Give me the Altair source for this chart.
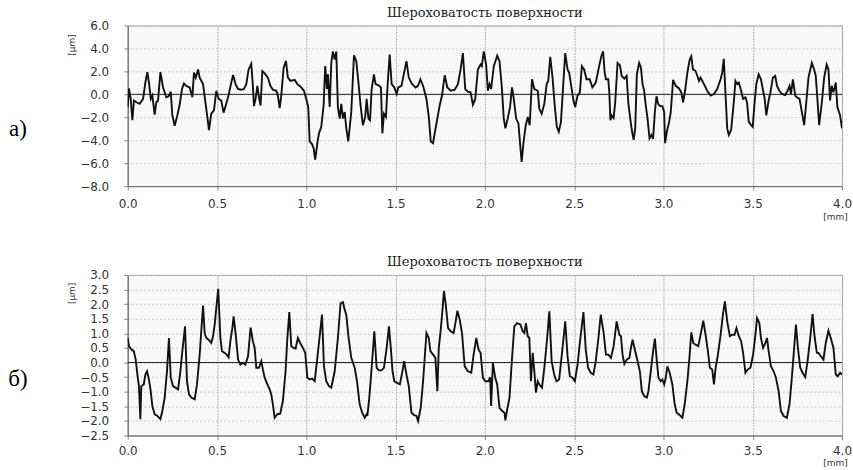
import altair as alt
import pandas as pd

TITLE = "Шероховатость поверхности"
X_TICKS = [0.0, 0.5, 1.0, 1.5, 2.0, 2.5, 3.0, 3.5, 4.0]
TOP_TICKS = [-8.0, -6.0, -4.0, -2.0, 0.0, 2.0, 4.0, 6.0]
BOT_TICKS = [-2.5, -2.0, -1.5, -1.0, -0.5, 0.0, 0.5, 1.0, 1.5, 2.0, 2.5, 3.0]

TOP_X = [0.000,0.007,0.017,0.026,0.035,0.049,0.067,0.086,0.099,0.110,0.119,0.129,0.138,0.151,0.160,0.170,0.183,0.198,0.216,0.229,
0.241,0.250,0.263,0.278,0.291,0.304,0.315,0.328,0.347,0.362,0.371,0.381,0.394,0.403,0.422,0.435,0.446,0.455,0.468,0.483,
0.496,0.509,0.524,0.537,0.549,0.562,0.576,0.590,0.604,0.618,0.636,0.651,0.664,0.677,0.692,0.701,0.707,0.716,0.726,0.735,
0.744,0.754,0.767,0.785,0.799,0.813,0.832,0.841,0.851,0.860,0.873,0.886,0.897,0.912,0.935,0.950,0.968,0.987,1.000,1.011,
1.019,1.032,1.041,1.050,1.062,1.071,1.084,1.097,1.106,1.116,1.121,1.131,1.140,1.149,1.159,1.168,1.177,1.187,1.196,1.205,
1.215,1.224,1.235,1.252,1.267,1.280,1.293,1.304,1.317,1.330,1.338,
1.348,1.357,1.366,1.379,1.388,1.403,1.418,1.426,1.435,1.446,1.455,1.467,1.478,1.493,1.506,1.515,1.533,1.546,1.561,1.574,
1.593,1.612,1.626,1.639,1.654,1.673,1.686,1.697,1.710,1.719,1.734,1.747,1.760,1.775,1.790,1.809,1.831,1.849,1.864,1.877,
1.890,1.905,1.920,1.933,1.946,1.961,1.976,1.983,1.994,2.007,2.017,2.026,2.035,2.050,2.069,2.082,2.095,2.106,2.115,2.128,
2.141,2.152,2.162,2.175,2.188,2.197,2.206,2.217,2.229,2.240,2.251,2.264,2.277,2.296,2.305,2.318,2.333,2.346,2.355,2.366,
2.379,2.392,2.403,2.414,2.426,2.439,2.450,2.463,2.472,2.485,2.496,2.506,2.519,2.532,2.543,2.556,2.569,2.587,2.602,2.621,
2.640,2.653,2.662,2.671,2.678,
2.691,2.697,2.703,2.710,2.721,2.730,2.743,2.757,2.766,2.781,2.794,2.803,2.814,2.823,2.833,2.842,2.851,2.864,2.874,2.883,
2.892,2.901,2.911,2.922,2.933,2.942,2.952,2.961,2.970,2.981,2.994,3.004,3.009,3.019,3.032,3.041,3.054,3.069,3.087,3.100,
3.110,3.121,3.134,3.147,3.156,3.165,3.180,3.190,3.199,3.208,3.227,3.245,3.264,3.283,3.301,3.320,3.329,3.338,3.348,3.357,
3.366,3.379,3.394,3.403,3.413,3.422,3.435,3.446,3.459,3.468,3.478,3.491,3.500,3.509,3.520,3.533,3.546,3.558,3.567,3.576,
3.589,3.599,3.613,3.626,3.636,3.649,3.664,3.682,3.695,3.706,3.714,3.725,3.738,3.747,3.762,3.775,3.788,3.799,3.812,3.831,
3.844,3.853,3.862,3.872,3.887,3.900,3.914,3.924,3.933,3.942,3.952,3.965,3.974,3.989,4.000]

TOP_Y = [-1.11,0.51,-0.40,-2.26,-0.54,-0.69,-0.83,-0.40,1.03,1.94,1.03,-0.40,-0.11,-1.77,-0.69,-0.54,1.94,0.60,-0.26,-0.17,
0.23,-1.83,-2.74,-1.83,-0.91,0.46,0.94,0.74,0.60,-0.26,1.89,1.46,2.17,1.46,0.89,-0.69,-1.97,-3.11,-1.69,-1.40,
0.31,-0.40,-0.54,-1.60,-0.97,-0.26,0.74,1.69,0.89,0.46,0.40,0.46,0.89,2.17,2.66,0.74,-1.03,-0.40,0.74,-0.26,
-0.97,2.03,1.83,1.46,0.74,0.40,0.31,-0.11,-1.20,-0.11,2.31,2.91,1.46,1.17,1.26,0.89,0.66,0.31,-0.40,-1.11,
-4.11,-4.34,-4.69,-5.69,-4.26,-3.40,-2.83,-0.97,2.46,0.46,1.74,-1.11,2.74,3.74,3.03,3.74,-1.11,-2.11,-0.83,-2.11,
-1.54,-2.97,-4.11,-1.54,3.40,2.89,0.89,-0.97,-2.69,-1.97,-0.40,
-2.11,-2.26,0.46,1.74,0.89,0.80,0.60,-3.40,-1.69,-1.97,0.74,3.46,0.89,0.60,0.03,0.60,0.74,1.74,2.89,1.46,
0.89,0.60,0.74,1.31,0.74,-0.40,-1.97,-4.11,-4.26,-3.40,-2.11,-0.97,-0.11,1.66,0.60,0.31,0.40,0.89,2.17,3.60,
0.46,0.23,0.17,-0.91,-0.40,2.17,2.60,2.46,3.74,2.60,0.31,0.89,0.46,2.46,3.37,2.89,0.60,-2.11,-2.97,-2.11,
-1.11,0.60,-0.40,-2.11,-2.54,-4.26,-5.89,-4.11,-2.69,-1.97,-2.69,1.31,0.46,0.31,-1.26,-1.69,-0.83,0.89,1.17,3.26,
1.46,-1.11,-2.83,-3.26,-2.40,0.89,3.60,2.17,1.89,0.60,-0.54,-1.11,-0.11,0.17,2.46,2.17,1.31,1.31,0.60,1.03,
2.46,3.37,3.74,1.89,1.31,
1.31,0.17,-2.26,-1.83,-2.06,-0.69,2.74,2.51,1.60,1.37,1.60,-0.69,-2.11,-3.11,-3.97,-2.97,1.74,2.74,2.31,0.89,
0.31,-0.97,-2.11,-3.83,-3.54,-3.89,-1.54,-0.17,-0.83,-1.03,-1.03,-1.54,-4.26,-3.26,-2.40,-1.54,1.26,0.74,0.51,0.17,
-0.69,0.31,1.89,3.03,3.31,2.17,2.03,1.60,1.17,1.46,0.89,0.31,-0.11,0.03,0.46,1.31,1.89,3.09,-0.11,-2.97,
-3.54,-3.11,-0.69,1.17,0.89,1.03,0.31,-0.40,-0.26,-0.69,-2.40,-2.69,-2.83,-0.97,0.89,1.74,1.31,0.31,-0.40,-1.83,
-0.54,0.17,1.46,1.60,0.74,0.31,0.03,-0.06,0.31,0.74,0.03,1.31,-0.11,-0.26,-0.40,-1.54,-2.69,-0.83,1.46,2.74,
2.17,1.60,-0.40,-2.69,-0.69,1.46,2.60,2.17,-0.54,0.74,0.17,1.03,-1.11,-1.83,-2.97]

BOT_X = [0.000,0.007,0.021,0.034,0.045,0.054,0.063,0.071,0.076,0.090,0.099,0.108,0.119,0.129,0.138,0.151,0.166,0.183,0.194,0.207,
0.220,0.231,0.241,0.254,0.267,0.282,0.295,0.304,0.321,0.332,0.343,0.356,0.375,0.388,0.403,0.412,0.422,0.431,0.440,0.453,
0.468,0.478,0.487,0.496,0.507,0.519,0.528,0.543,0.554,0.565,0.576,0.586,0.593,0.604,0.618,0.631,0.646,0.659,0.674,0.688,
0.701,0.711,0.720,0.735,0.748,0.757,0.767,0.782,0.795,0.804,0.813,0.823,0.838,0.854,0.869,0.884,0.894,0.905,0.916,0.929,
0.940,0.953,0.966,0.981,0.994,1.006,1.019,1.032,1.047,1.060,1.075,1.088,1.099,1.112,1.127,1.140,1.159,1.177,1.192,1.205,
1.215,1.224,1.237,1.252,1.271,1.284,1.299,1.313,1.327,1.338,
1.342,1.353,1.366,1.381,1.394,1.407,1.422,1.435,1.450,1.463,1.474,1.483,1.493,1.506,1.524,1.537,1.548,1.561,1.574,1.589,
1.604,1.617,1.626,1.641,1.654,1.673,1.686,1.695,1.710,1.723,1.734,1.742,1.753,1.762,1.771,1.781,1.794,1.809,1.825,1.835,
1.846,1.859,1.872,1.887,1.905,1.924,1.937,1.952,1.965,1.976,1.989,2.002,2.020,2.030,2.035,2.045,2.058,2.069,2.082,2.097,
2.110,2.115,2.125,2.138,2.151,2.165,2.180,2.199,2.212,2.221,2.230,2.240,2.249,2.258,2.268,2.277,2.286,2.296,2.305,2.320,
2.333,2.348,2.361,2.374,2.388,2.401,2.416,2.431,2.450,2.463,2.476,2.491,2.504,2.519,2.533,2.552,2.565,2.578,2.593,2.608,
2.621,2.636,2.649,2.664,2.678,
2.691,2.706,2.721,2.738,2.753,2.762,2.771,2.781,2.794,2.809,2.818,2.827,2.840,2.855,2.868,2.879,2.892,2.907,2.916,2.929,
2.942,2.952,2.963,2.972,2.985,2.994,3.004,3.013,3.022,3.035,3.050,3.063,3.074,3.091,3.106,3.119,3.134,3.147,3.156,3.167,
3.180,3.195,3.208,3.223,3.236,3.249,3.260,3.273,3.283,3.292,3.305,3.320,3.333,3.344,3.357,3.372,3.385,3.398,3.409,3.422,
3.435,3.446,3.459,3.472,3.487,3.502,3.515,3.524,3.537,3.546,3.558,3.571,3.580,3.589,3.602,3.617,3.630,3.645,3.658,3.673,
3.691,3.706,3.719,3.729,3.742,3.753,3.766,3.779,3.794,3.807,3.822,3.835,3.846,3.859,3.868,3.881,3.896,3.909,3.924,3.937,
3.952,3.965,3.976,3.989,4.000]

BOT_Y = [0.84,0.56,0.44,0.39,0.10,-0.41,-0.81,-1.94,-0.81,-0.75,-0.41,-0.30,-0.58,-0.98,-1.49,-1.77,-1.83,-1.94,-1.66,-1.20,
-0.30,0.84,-0.52,-0.81,-0.86,-0.92,-0.30,0.27,1.24,-0.64,-1.09,-1.20,-1.26,-0.75,0.27,1.07,1.95,1.01,0.84,0.78,
0.67,0.90,1.30,1.86,2.52,0.84,0.39,0.33,0.27,0.18,0.78,1.18,1.58,1.01,0.10,-0.07,-0.01,-0.07,0.22,1.20,
0.73,0.50,-0.18,-0.18,0.05,-0.24,-0.52,-0.75,-0.92,-1.09,-1.43,-1.89,-1.77,-1.75,-1.32,-0.30,0.84,1.73,0.56,0.50,
0.48,0.84,0.67,0.50,0.33,-0.52,-0.58,-0.55,-0.64,0.05,0.90,1.64,-0.13,-0.64,-0.81,-0.86,-0.30,0.84,2.03,2.07,
1.81,1.64,0.84,0.16,-0.18,-0.64,-1.43,-1.72,-1.89,-1.77,
-1.83,-1.20,-0.18,1.07,-0.18,-0.27,-0.27,-0.18,0.50,1.24,0.44,-0.30,-0.64,-0.69,-0.75,-0.35,0.05,-0.41,-0.81,-1.72,
-1.80,-1.83,-2.00,-1.55,-0.64,1.01,0.84,0.39,0.27,0.16,-0.98,0.50,1.13,1.75,2.45,1.98,1.18,1.07,1.01,1.35,
1.77,1.47,1.01,-0.13,-0.30,-0.35,0.27,0.84,0.44,0.33,-0.52,-0.64,-0.64,-0.50,-1.49,-0.01,-0.52,-0.75,-1.55,-1.66,
-1.72,-1.98,-1.61,-1.20,0.05,1.24,1.35,1.30,1.07,1.01,1.35,0.90,0.84,-0.64,0.33,-0.30,-1.03,-0.64,-0.75,-0.86,
-0.18,0.78,1.75,0.05,-0.41,-0.64,-0.58,0.27,1.41,0.22,-0.47,-0.52,-0.64,-0.07,0.73,1.73,0.44,-0.18,-0.35,-0.41,
0.05,0.84,1.64,1.07,0.27,
0.27,0.16,0.56,1.41,0.95,0.90,0.27,-0.05,0.10,0.16,0.50,0.78,0.44,0.05,-0.30,-0.98,-1.15,-1.20,-0.98,-0.30,
0.39,0.82,0.05,-0.52,-0.64,-0.58,-0.75,-0.52,-0.13,-0.35,-0.75,-1.43,-1.72,-1.80,-1.89,-1.43,-0.64,0.27,1.03,0.67,
0.61,0.56,0.95,1.43,0.95,0.39,-0.18,-0.24,-0.75,-0.18,0.27,0.95,1.64,2.09,1.41,0.90,0.95,0.95,1.18,0.90,
0.73,0.33,-0.35,-0.24,-0.18,0.27,0.95,1.52,1.35,0.84,0.50,0.67,0.84,0.39,-0.13,-0.30,-0.52,-0.98,-1.66,-1.83,
-1.89,-1.43,-0.52,0.27,1.30,0.50,-0.18,-0.35,-0.50,0.05,0.84,1.66,0.90,0.33,0.33,0.22,0.10,0.67,1.09,0.84,
0.50,-0.41,-0.47,-0.35,-0.41]

ZERO = [0.0]

W, H = 716, 161


def panel(xs, ys, ydom, yticks, letter, ytitle_y, xtitle_y, xlabel_pad):
    df = pd.DataFrame({"x": xs, "y": ys})
    x_axis = alt.Axis(values=X_TICKS, format=".1f", title="[mm]",
                      titleX=709, titleY=xtitle_y, titleAlign="center",
                      titleBaseline="middle", titleFont="DejaVu Sans",
                      titleFontSize=9, titleFontWeight="normal", titleColor="#333",
                      labelFont="DejaVu Sans", labelFontSize=12, labelColor="#333",
                      labelPadding=xlabel_pad, tickSize=4, tickColor="#888",
                      domainColor="#666", gridColor="#b0b0b0", gridDash=[2, 1],
                      labelFlush=False, labelOverlap=False)
    y_axis = alt.Axis(values=yticks, format=".1f", title="[µm]",
                      titleX=-56, titleY=ytitle_y, titleAngle=-90,
                      titleAlign="center", titleBaseline="middle",
                      titleFont="DejaVu Sans", titleFontSize=9,
                      titleFontWeight="normal", titleColor="#333",
                      labelFont="DejaVu Sans", labelFontSize=12, labelColor="#333",
                      labelPadding=15, tickSize=4, tickColor="#888",
                      labelOverlap=False, labelBaseline="middle", labelSeparation=0,
                      domainColor="#666", gridColor="#c8c8c8", gridDash=[2, 2])
    y_scale = alt.Scale(domain=ydom, nice=False, zero=False)
    line = alt.Chart(df).mark_line(color="#111", strokeWidth=1.9, clip=True).encode(
        x=alt.X("x:Q", scale=alt.Scale(domain=[0, 4], nice=False, zero=False), axis=x_axis),
        y=alt.Y("y:Q", scale=y_scale, axis=y_axis))
    zero = alt.Chart(pd.DataFrame({"y": ZERO})).mark_rule(color="#222", strokeWidth=1).encode(
        y=alt.Y("y:Q", scale=y_scale, axis=y_axis))
    lab = alt.Chart(pd.DataFrame({"t": [letter]})).mark_text(
        font="Liberation Serif", fontSize=23, align="center", baseline="middle", color="#000"
    ).encode(x=alt.value(-110), y=alt.value(104), text="t:N")
    return alt.layer(zero, line, lab).properties(
        width=W, height=H,
        title=alt.TitleParams(TITLE, font="DejaVu Serif", fontSize=13, fontWeight="normal",
                              color="#222", anchor="middle", offset=0),
    )


top = panel(TOP_X, TOP_Y, [-8, 6], TOP_TICKS, "а)", 19, 30, 8)
bot = panel(BOT_X, BOT_Y, [-2.5, 3], BOT_TICKS, "б)", 18, 27, 6)

chart = alt.vconcat(top, bot, spacing=33).properties(
    padding={"left": 7, "top": 5, "right": 0, "bottom": 0},
    background="#ffffff",
).configure_view(fill="#f8f8f8", stroke="#999999", strokeWidth=1).configure_axis(labelOverlap=False)

chart.save("out.html", embed_options={"renderer": "svg", "actions": False})
